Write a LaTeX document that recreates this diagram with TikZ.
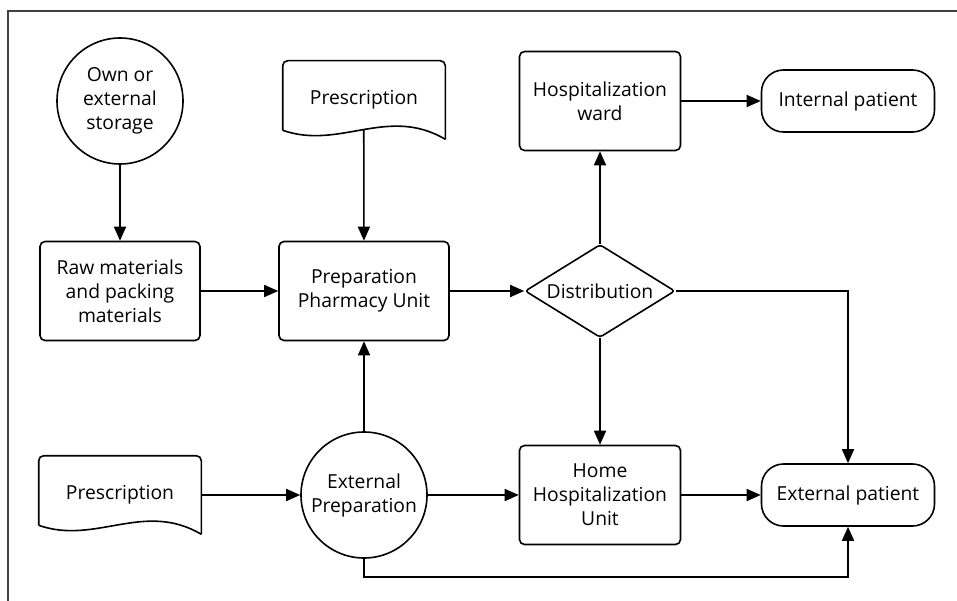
\documentclass[tikz,border=0pt]{standalone}
\usepackage{fontspec}
\setmainfont{Open Sans}
\usetikzlibrary{arrows.meta, shapes.geometric, calc}

% document symbol drawn round a node
\newcommand{\docpath}[1]{%
	\draw[rounded corners=5pt] ($(#1.south west)+(0,-9)$) -- (#1.north west) -- (#1.north east) -- (#1.south east);
	\draw ($(#1.south west)+(0,-9)$) .. controls ($(#1.south west)+(57,11)$) and ($(#1.south west)+(105,-34)$) .. (#1.south east) coordinate[pos=0.5] (#1-w);
}

\begin{document}
\begin{tikzpicture}[x=1pt, y=-1pt, line width=1.6pt, font=\fontsize{19.3}{24}\selectfont,
	proc/.style={draw, rounded corners=5pt, align=center, minimum width=161pt, minimum height=99pt, inner sep=0pt},
	store/.style={draw, circle, align=center, minimum size=126pt, inner sep=0pt},
	term/.style={draw, rounded corners=22pt, minimum width=173pt, minimum height=62pt, inner sep=0pt},
	docu/.style={align=center, minimum width=161pt, minimum height=77pt, inner sep=0pt},
	dec/.style={draw, diamond, aspect=1.6, minimum width=150pt, minimum height=93pt, inner sep=0pt, rounded corners=3pt},
	arr/.style={-{Triangle[length=14pt, width=12pt]}}]
	\useasboundingbox (0,0) rectangle (957,601);
	\draw[line width=2.5pt, black!75] (8,601) -- (8,11) -- (957,11);
	
	\node[store] (storage) at (120,101) {Own or\\external\\storage};
	\node[proc, minimum width=160pt] (raw) at (120,291) {Raw materials\\and packing\\materials};
	\node[docu] (presc1) at (364,100) {Prescription};
	\docpath{presc1}
	\node[proc, minimum width=170pt] (prep) at (364,291) {Preparation\\Pharmacy Unit};
	\node[dec] (dist) at (600,291) {Distribution};
	\node[proc] (ward) at (600,101) {Hospitalization\\ward};
	\node[term] (intpat) at (848,101) {Internal patient};
	\node[docu] (presc2) at (120,495) {Prescription};
	\docpath{presc2}
	\node[store] (extprep) at (364,495) {External\\Preparation};
	\node[proc] (home) at (600,495) {Home\\Hospitalization\\Unit};
	\node[term] (extpat) at (848,495) {External patient};
	
	\draw[arr] (storage) -- (raw);
	\draw[arr] (raw) -- (prep);
	\draw[arr] (presc1-w) -- (prep);
	\draw[arr] (extprep) -- (prep);
	\draw[arr] (prep) -- (dist);
	\draw[arr] (dist) -- (ward);
	\draw[arr] (dist) -- (home);
	\draw[arr] (dist.east) -| (extpat.north);
	\draw[arr] (ward) -- (intpat);
	\draw[arr] (presc2) -- (extprep);
	\draw[arr] (extprep) -- (home);
	\draw[arr] (home) -- (extpat);
	\draw[arr] (extprep.south) -- ++(0,18) -| (extpat.south);
\end{tikzpicture}
\end{document}
